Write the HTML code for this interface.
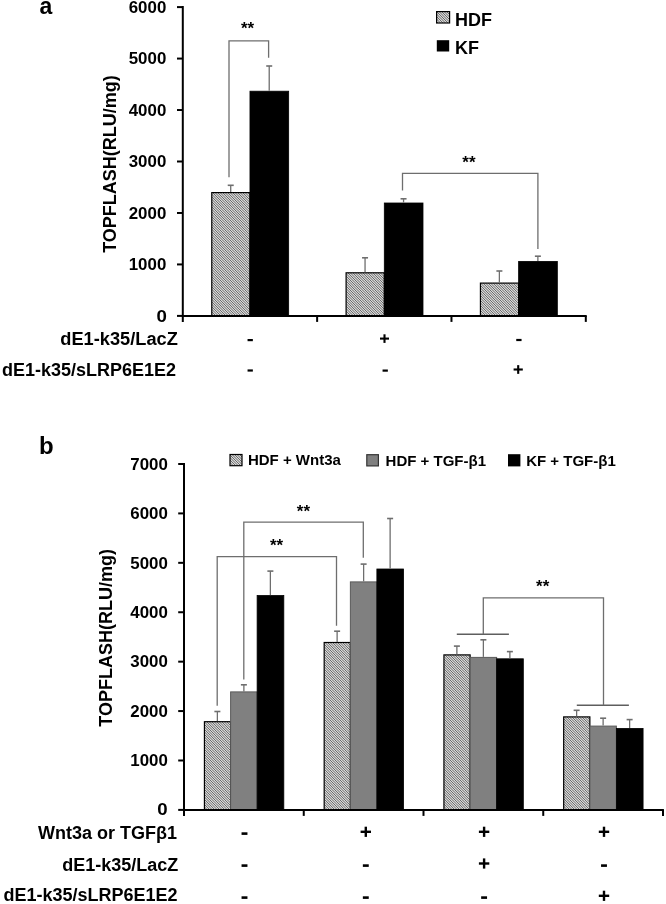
<!DOCTYPE html>
<html><head><meta charset="utf-8"><title>TOPFLASH</title>
<style>
html,body{margin:0;padding:0;background:#fff;}
body{width:666px;height:904px;overflow:hidden;}
svg{display:block;filter:grayscale(1);}
text{font-family:"Liberation Sans", sans-serif;font-weight:bold;fill:#000;}
</style></head>
<body>
<svg width="666" height="904" viewBox="0 0 666 904">
<defs>
<pattern id="hatch" patternUnits="userSpaceOnUse" width="5" height="5"><rect width="5" height="5" fill="#d8d8d8"/><path d="M-1,-1 L6,6 M-1,1.5 L2.5,5 M1.5,-1 L6,3.5 M-1,4 L0,5 M4,-1 L6,1" stroke="#6a6a6a" stroke-width="1"/></pattern>
</defs>
<rect width="666" height="904" fill="#fff"/>
<rect x="211.77" y="192.60" width="38.20" height="123.30" fill="url(#hatch)" stroke="#000" stroke-width="1.2"/>
<rect x="249.97" y="91.20" width="38.70" height="224.70" fill="#000" stroke="#000" stroke-width="0.8"/>
<rect x="346.10" y="272.80" width="38.20" height="43.10" fill="url(#hatch)" stroke="#000" stroke-width="1.2"/>
<rect x="384.30" y="203.00" width="38.70" height="112.90" fill="#000" stroke="#000" stroke-width="0.8"/>
<rect x="480.43" y="283.10" width="38.20" height="32.80" fill="url(#hatch)" stroke="#000" stroke-width="1.2"/>
<rect x="518.63" y="261.40" width="38.70" height="54.50" fill="#000" stroke="#000" stroke-width="0.8"/>
<line x1="230.72" y1="185.30" x2="230.72" y2="192.00" stroke="#6e6e6e" stroke-width="1.3"/>
<line x1="227.72" y1="185.30" x2="233.72" y2="185.30" stroke="#6e6e6e" stroke-width="1.6"/>
<line x1="269.22" y1="66.00" x2="269.22" y2="90.80" stroke="#6e6e6e" stroke-width="1.3"/>
<line x1="266.22" y1="66.00" x2="272.22" y2="66.00" stroke="#6e6e6e" stroke-width="1.6"/>
<line x1="365.05" y1="257.80" x2="365.05" y2="272.20" stroke="#6e6e6e" stroke-width="1.3"/>
<line x1="362.05" y1="257.80" x2="368.05" y2="257.80" stroke="#6e6e6e" stroke-width="1.6"/>
<line x1="403.55" y1="198.80" x2="403.55" y2="202.60" stroke="#6e6e6e" stroke-width="1.3"/>
<line x1="400.55" y1="198.80" x2="406.55" y2="198.80" stroke="#6e6e6e" stroke-width="1.6"/>
<line x1="499.38" y1="271.00" x2="499.38" y2="282.50" stroke="#6e6e6e" stroke-width="1.3"/>
<line x1="496.38" y1="271.00" x2="502.38" y2="271.00" stroke="#6e6e6e" stroke-width="1.6"/>
<line x1="537.88" y1="256.20" x2="537.88" y2="261.00" stroke="#6e6e6e" stroke-width="1.3"/>
<line x1="534.88" y1="256.20" x2="540.88" y2="256.20" stroke="#6e6e6e" stroke-width="1.6"/>
<line x1="182.80" y1="6.10" x2="182.80" y2="321.90" stroke="#000" stroke-width="2"/>
<line x1="181.90" y1="315.90" x2="586.70" y2="315.90" stroke="#000" stroke-width="2"/>
<line x1="177.00" y1="315.90" x2="182.80" y2="315.90" stroke="#000" stroke-width="2"/>
<line x1="177.00" y1="264.43" x2="182.80" y2="264.43" stroke="#000" stroke-width="2"/>
<line x1="177.00" y1="212.97" x2="182.80" y2="212.97" stroke="#000" stroke-width="2"/>
<line x1="177.00" y1="161.50" x2="182.80" y2="161.50" stroke="#000" stroke-width="2"/>
<line x1="177.00" y1="110.03" x2="182.80" y2="110.03" stroke="#000" stroke-width="2"/>
<line x1="177.00" y1="58.57" x2="182.80" y2="58.57" stroke="#000" stroke-width="2"/>
<line x1="177.00" y1="7.10" x2="182.80" y2="7.10" stroke="#000" stroke-width="2"/>
<line x1="317.13" y1="315.90" x2="317.13" y2="321.90" stroke="#000" stroke-width="2"/>
<line x1="451.47" y1="315.90" x2="451.47" y2="321.90" stroke="#000" stroke-width="2"/>
<line x1="585.80" y1="315.90" x2="585.80" y2="321.90" stroke="#000" stroke-width="2"/>
<text x="166.80" y="321.60" font-size="15.6" text-anchor="end" textLength="10.40" lengthAdjust="spacingAndGlyphs">0</text>
<text x="166.30" y="270.13" font-size="15.6" text-anchor="end" textLength="37.60" lengthAdjust="spacingAndGlyphs">1000</text>
<text x="166.30" y="218.67" font-size="15.6" text-anchor="end" textLength="37.60" lengthAdjust="spacingAndGlyphs">2000</text>
<text x="166.30" y="167.20" font-size="15.6" text-anchor="end" textLength="37.60" lengthAdjust="spacingAndGlyphs">3000</text>
<text x="166.30" y="115.73" font-size="15.6" text-anchor="end" textLength="37.60" lengthAdjust="spacingAndGlyphs">4000</text>
<text x="166.30" y="64.27" font-size="15.6" text-anchor="end" textLength="37.60" lengthAdjust="spacingAndGlyphs">5000</text>
<text x="166.30" y="12.80" font-size="15.6" text-anchor="end" textLength="37.60" lengthAdjust="spacingAndGlyphs">6000</text>
<polyline points="229.00,177.20 229.00,40.80 268.60,40.80 268.60,57.80" fill="none" stroke="#6e6e6e" stroke-width="1.3"/>
<polyline points="402.50,190.50 402.50,173.30 537.90,173.30 537.90,249.00" fill="none" stroke="#6e6e6e" stroke-width="1.3"/>
<text x="247.60" y="34.10" font-size="17" text-anchor="middle">**</text>
<text x="468.90" y="167.50" font-size="17" text-anchor="middle">**</text>
<rect x="436.60" y="11.60" width="13.00" height="11.40" fill="url(#hatch)" stroke="#000" stroke-width="1.2"/>
<rect x="436.80" y="40.20" width="12.40" height="11.30" fill="#000"/>
<text x="455.00" y="25.50" font-size="18" text-anchor="start">HDF</text>
<text x="455.00" y="53.60" font-size="18" text-anchor="start">KF</text>
<text transform="translate(115.5,164) rotate(-90)" font-size="18" text-anchor="middle">TOPFLASH(RLU/mg)</text>
<text x="39.40" y="13.60" font-size="23" text-anchor="start">a</text>
<text x="177.80" y="344.90" font-size="18" text-anchor="end" textLength="117.50" lengthAdjust="spacingAndGlyphs">dE1-k35/LacZ</text>
<text x="176.00" y="375.50" font-size="18" text-anchor="end">dE1-k35/sLRP6E1E2</text>
<rect x="247.55" y="339.00" width="5.30" height="2.20" fill="#000"/>
<rect x="247.55" y="369.40" width="5.30" height="2.20" fill="#000"/>
<rect x="380.00" y="337.55" width="9.00" height="2.10" fill="#000"/>
<rect x="383.45" y="334.30" width="2.10" height="8.60" fill="#000"/>
<rect x="382.55" y="369.50" width="5.30" height="2.20" fill="#000"/>
<rect x="516.25" y="338.90" width="5.30" height="2.20" fill="#000"/>
<rect x="513.60" y="368.45" width="9.20" height="2.10" fill="#000"/>
<rect x="517.15" y="365.15" width="2.10" height="8.70" fill="#000"/>
<rect x="204.43" y="721.70" width="26.20" height="88.20" fill="url(#hatch)" stroke="#000" stroke-width="1.2"/>
<rect x="230.62" y="691.90" width="26.50" height="118.00" fill="#808080" stroke="#5a5a5a" stroke-width="1"/>
<rect x="257.12" y="595.50" width="26.70" height="214.40" fill="#000" stroke="#000" stroke-width="0.8"/>
<rect x="324.18" y="642.50" width="26.20" height="167.40" fill="url(#hatch)" stroke="#000" stroke-width="1.2"/>
<rect x="350.38" y="581.90" width="26.50" height="228.00" fill="#808080" stroke="#5a5a5a" stroke-width="1"/>
<rect x="376.88" y="569.00" width="26.70" height="240.90" fill="#000" stroke="#000" stroke-width="0.8"/>
<rect x="443.93" y="654.90" width="26.20" height="155.00" fill="url(#hatch)" stroke="#000" stroke-width="1.2"/>
<rect x="470.12" y="657.40" width="26.50" height="152.50" fill="#808080" stroke="#5a5a5a" stroke-width="1"/>
<rect x="496.62" y="658.80" width="26.70" height="151.10" fill="#000" stroke="#000" stroke-width="0.8"/>
<rect x="563.67" y="716.90" width="26.20" height="93.00" fill="url(#hatch)" stroke="#000" stroke-width="1.2"/>
<rect x="589.88" y="726.10" width="26.50" height="83.80" fill="#808080" stroke="#5a5a5a" stroke-width="1"/>
<rect x="616.38" y="728.40" width="26.70" height="81.50" fill="#000" stroke="#000" stroke-width="0.8"/>
<line x1="217.38" y1="711.50" x2="217.38" y2="721.10" stroke="#6e6e6e" stroke-width="1.3"/>
<line x1="214.38" y1="711.50" x2="220.38" y2="711.50" stroke="#6e6e6e" stroke-width="1.6"/>
<line x1="243.88" y1="684.80" x2="243.88" y2="691.40" stroke="#6e6e6e" stroke-width="1.3"/>
<line x1="240.88" y1="684.80" x2="246.88" y2="684.80" stroke="#6e6e6e" stroke-width="1.6"/>
<line x1="270.38" y1="571.10" x2="270.38" y2="595.10" stroke="#6e6e6e" stroke-width="1.3"/>
<line x1="267.38" y1="571.10" x2="273.38" y2="571.10" stroke="#6e6e6e" stroke-width="1.6"/>
<line x1="337.12" y1="631.20" x2="337.12" y2="641.90" stroke="#6e6e6e" stroke-width="1.3"/>
<line x1="334.12" y1="631.20" x2="340.12" y2="631.20" stroke="#6e6e6e" stroke-width="1.6"/>
<line x1="363.62" y1="564.10" x2="363.62" y2="581.40" stroke="#6e6e6e" stroke-width="1.3"/>
<line x1="360.62" y1="564.10" x2="366.62" y2="564.10" stroke="#6e6e6e" stroke-width="1.6"/>
<line x1="390.12" y1="518.50" x2="390.12" y2="568.60" stroke="#6e6e6e" stroke-width="1.3"/>
<line x1="387.12" y1="518.50" x2="393.12" y2="518.50" stroke="#6e6e6e" stroke-width="1.6"/>
<line x1="456.88" y1="646.10" x2="456.88" y2="654.30" stroke="#6e6e6e" stroke-width="1.3"/>
<line x1="453.88" y1="646.10" x2="459.88" y2="646.10" stroke="#6e6e6e" stroke-width="1.6"/>
<line x1="483.38" y1="639.80" x2="483.38" y2="656.90" stroke="#6e6e6e" stroke-width="1.3"/>
<line x1="480.38" y1="639.80" x2="486.38" y2="639.80" stroke="#6e6e6e" stroke-width="1.6"/>
<line x1="509.88" y1="651.60" x2="509.88" y2="658.40" stroke="#6e6e6e" stroke-width="1.3"/>
<line x1="506.88" y1="651.60" x2="512.88" y2="651.60" stroke="#6e6e6e" stroke-width="1.6"/>
<line x1="576.62" y1="710.30" x2="576.62" y2="716.30" stroke="#6e6e6e" stroke-width="1.3"/>
<line x1="573.62" y1="710.30" x2="579.62" y2="710.30" stroke="#6e6e6e" stroke-width="1.6"/>
<line x1="603.12" y1="718.20" x2="603.12" y2="725.60" stroke="#6e6e6e" stroke-width="1.3"/>
<line x1="600.12" y1="718.20" x2="606.12" y2="718.20" stroke="#6e6e6e" stroke-width="1.6"/>
<line x1="629.62" y1="719.60" x2="629.62" y2="728.00" stroke="#6e6e6e" stroke-width="1.3"/>
<line x1="626.62" y1="719.60" x2="632.62" y2="719.60" stroke="#6e6e6e" stroke-width="1.6"/>
<line x1="184.00" y1="463.00" x2="184.00" y2="815.90" stroke="#000" stroke-width="2"/>
<line x1="183.10" y1="809.90" x2="663.90" y2="809.90" stroke="#000" stroke-width="2"/>
<line x1="178.20" y1="809.90" x2="184.00" y2="809.90" stroke="#000" stroke-width="2"/>
<line x1="178.20" y1="760.49" x2="184.00" y2="760.49" stroke="#000" stroke-width="2"/>
<line x1="178.20" y1="711.07" x2="184.00" y2="711.07" stroke="#000" stroke-width="2"/>
<line x1="178.20" y1="661.66" x2="184.00" y2="661.66" stroke="#000" stroke-width="2"/>
<line x1="178.20" y1="612.24" x2="184.00" y2="612.24" stroke="#000" stroke-width="2"/>
<line x1="178.20" y1="562.83" x2="184.00" y2="562.83" stroke="#000" stroke-width="2"/>
<line x1="178.20" y1="513.41" x2="184.00" y2="513.41" stroke="#000" stroke-width="2"/>
<line x1="178.20" y1="464.00" x2="184.00" y2="464.00" stroke="#000" stroke-width="2"/>
<line x1="303.75" y1="809.90" x2="303.75" y2="815.90" stroke="#000" stroke-width="2"/>
<line x1="423.50" y1="809.90" x2="423.50" y2="815.90" stroke="#000" stroke-width="2"/>
<line x1="543.25" y1="809.90" x2="543.25" y2="815.90" stroke="#000" stroke-width="2"/>
<line x1="663.00" y1="809.90" x2="663.00" y2="815.90" stroke="#000" stroke-width="2"/>
<text x="167.70" y="815.00" font-size="15.6" text-anchor="end" textLength="10.40" lengthAdjust="spacingAndGlyphs">0</text>
<text x="167.90" y="766.19" font-size="15.6" text-anchor="end" textLength="37.60" lengthAdjust="spacingAndGlyphs">1000</text>
<text x="167.90" y="716.77" font-size="15.6" text-anchor="end" textLength="37.60" lengthAdjust="spacingAndGlyphs">2000</text>
<text x="167.90" y="667.36" font-size="15.6" text-anchor="end" textLength="37.60" lengthAdjust="spacingAndGlyphs">3000</text>
<text x="167.90" y="617.94" font-size="15.6" text-anchor="end" textLength="37.60" lengthAdjust="spacingAndGlyphs">4000</text>
<text x="167.90" y="568.53" font-size="15.6" text-anchor="end" textLength="37.60" lengthAdjust="spacingAndGlyphs">5000</text>
<text x="167.90" y="519.11" font-size="15.6" text-anchor="end" textLength="37.60" lengthAdjust="spacingAndGlyphs">6000</text>
<text x="167.90" y="469.70" font-size="15.6" text-anchor="end" textLength="37.60" lengthAdjust="spacingAndGlyphs">7000</text>
<polyline points="217.20,705.80 217.20,556.70 336.50,556.70 336.50,625.80" fill="none" stroke="#6e6e6e" stroke-width="1.3"/>
<polyline points="243.80,679.50 243.80,522.20 363.30,522.20 363.30,557.80" fill="none" stroke="#6e6e6e" stroke-width="1.3"/>
<line x1="456.80" y1="634.20" x2="508.90" y2="634.20" stroke="#5e5e5e" stroke-width="1.4"/>
<line x1="576.80" y1="705.30" x2="628.90" y2="705.30" stroke="#5e5e5e" stroke-width="1.4"/>
<polyline points="483.30,634.00 483.30,597.90 603.50,597.90 603.50,705.20" fill="none" stroke="#6e6e6e" stroke-width="1.3"/>
<text x="303.40" y="516.90" font-size="17" text-anchor="middle">**</text>
<text x="276.50" y="550.70" font-size="17" text-anchor="middle">**</text>
<text x="542.70" y="591.80" font-size="17" text-anchor="middle">**</text>
<rect x="230.00" y="454.50" width="12.00" height="11.20" fill="url(#hatch)" stroke="#000" stroke-width="1.2"/>
<rect x="366.80" y="454.70" width="11.60" height="11.20" fill="#808080" stroke="#333" stroke-width="1.2"/>
<rect x="508.00" y="454.20" width="12.40" height="12.20" fill="#000"/>
<text x="247.90" y="465.40" font-size="15" text-anchor="start">HDF + Wnt3a</text>
<text x="385.60" y="465.50" font-size="15" text-anchor="start">HDF + TGF-β1</text>
<text x="526.20" y="465.50" font-size="15" text-anchor="start">KF + TGF-β1</text>
<text transform="translate(111.9,637.8) rotate(-90)" font-size="18" text-anchor="middle">TOPFLASH(RLU/mg)</text>
<text x="39.00" y="453.90" font-size="24" text-anchor="start">b</text>
<text x="177.00" y="838.70" font-size="18" text-anchor="end">Wnt3a or TGFβ1</text>
<text x="178.30" y="871.40" font-size="18" text-anchor="end">dE1-k35/LacZ</text>
<text x="177.50" y="901.40" font-size="18" text-anchor="end">dE1-k35/sLRP6E1E2</text>
<rect x="241.55" y="832.30" width="5.90" height="2.60" fill="#000"/>
<rect x="360.60" y="830.60" width="10.40" height="2.40" fill="#000"/>
<rect x="364.60" y="826.70" width="2.40" height="10.20" fill="#000"/>
<rect x="478.90" y="830.60" width="10.40" height="2.40" fill="#000"/>
<rect x="482.90" y="826.70" width="2.40" height="10.20" fill="#000"/>
<rect x="598.80" y="830.60" width="10.40" height="2.40" fill="#000"/>
<rect x="602.80" y="826.70" width="2.40" height="10.20" fill="#000"/>
<rect x="241.55" y="864.30" width="5.90" height="2.60" fill="#000"/>
<rect x="362.85" y="864.30" width="5.90" height="2.60" fill="#000"/>
<rect x="478.90" y="862.30" width="10.40" height="2.40" fill="#000"/>
<rect x="482.90" y="858.40" width="2.40" height="10.20" fill="#000"/>
<rect x="601.05" y="864.30" width="5.90" height="2.60" fill="#000"/>
<rect x="241.55" y="896.30" width="5.90" height="2.60" fill="#000"/>
<rect x="362.85" y="896.30" width="5.90" height="2.60" fill="#000"/>
<rect x="481.15" y="896.30" width="5.90" height="2.60" fill="#000"/>
<rect x="598.80" y="894.60" width="10.40" height="2.40" fill="#000"/>
<rect x="602.80" y="890.70" width="2.40" height="10.20" fill="#000"/>
</svg>
</body></html>
